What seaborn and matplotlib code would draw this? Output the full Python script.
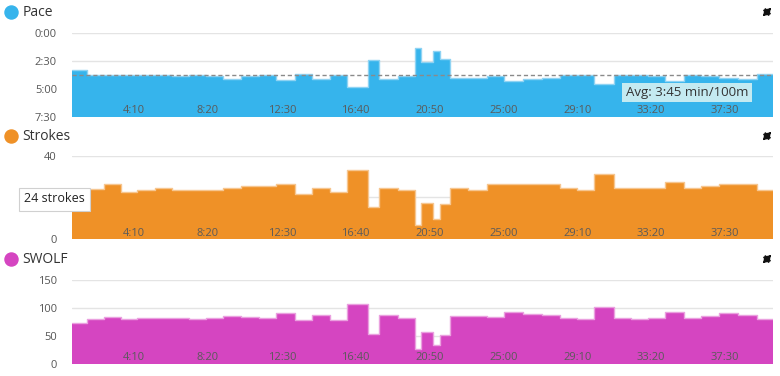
import matplotlib
matplotlib.use('Agg')
import matplotlib.pyplot as plt
from matplotlib.lines import Line2D
from matplotlib.patches import FancyArrowPatch
import pandas as pd
import seaborn as sns

# lap start times (s), plus end of last lap
lap_start = [40, 91, 148, 205, 261, 320, 379, 436, 494, 552, 613, 673, 731, 794,
             851, 912, 970, 1042, 1079, 1144, 1200, 1220, 1260, 1285, 1320, 1381,
             1445, 1501, 1567, 1629, 1692, 1749, 1807, 1875, 1933, 1989, 2046,
             2112, 2170, 2231, 2294, 2357]
end_time = 2412

# pace in seconds per 100m
pace = [196, 223, 227, 227, 227, 227, 232, 227, 232, 245, 232, 223, 250, 220,
        245, 223, 292, 146, 247, 232, 77, 157, 94, 139, 243, 243, 229, 259,
        248, 241, 227, 223, 274, 223, 223, 230, 257, 227, 230, 241, 247, 220]
strokes = [24, 24, 26.5, 22.5, 23.6, 24.5, 23.6, 23.6, 23.6, 24.5, 25.6, 25.6,
           26.5, 21.7, 24.5, 22.5, 33.3, 15.6, 24.5, 23.6, 6.8, 17.5, 9.7, 16.7,
           24.4, 23.6, 26.5, 26.5, 26.5, 26.5, 24.4, 23.6, 31.4, 24.4, 24.4,
           24.4, 27.4, 24.4, 25.6, 26.5, 26.5, 23.6]
swolf = [74, 80, 84, 80, 81.5, 83, 81.5, 80, 83, 86, 84.5, 83, 90.5, 78, 87, 79,
         107, 53, 88, 82, 26, 58, 34, 52, 86, 86, 84, 93, 90, 87, 82, 80, 101,
         82, 80, 81.5, 93.5, 83, 86, 90.5, 88, 80]

avg_pace = 225
x_ticks = [250, 500, 750, 1000, 1250, 1500, 1750, 2000, 2250]
x_labels = ['4:10', '8:20', '12:30', '16:40', '20:50', '25:00', '29:10', '33:20', '37:30']

sns.set_theme(style='white')
plt.rcParams['font.family'] = ['Open Sans', 'DejaVu Sans']

fig = plt.figure(figsize=(7.8, 3.76), dpi=100)

# the "20" label of strokes sits under the tooltip in the original
panels = [
    ('Pace', pace, '#36b4ec', '#8fd3f3', [0.6896, 0.2218], (450, 0),
     [0, 150, 300, 450], ['0:00', '2:30', '5:00', '7:30'], 0.968),
    ('Strokes', strokes, '#ef9127', '#f6c690', [0.3636, 0.2223], (0, 40),
     [0, 20, 40], ['0', '', '40'], 0.638),
    ('SWOLF', swolf, '#d545c1', '#eaa0df', [0.0319, 0.2234], (0, 150),
     [0, 50, 100, 150], ['0', '50', '100', '150'], 0.311),
]


def expand_icon(xc, yc):
    # NE / SW arrows of the "expand" button
    for sx in (1, -1):
        start = (xc + sx * 1.0 / 780, yc + sx * 1.0 / 376)
        end = (xc + sx * 6.0 / 780, yc + sx * 6.0 / 376)
        fig.add_artist(FancyArrowPatch(
            start, end, transform=fig.transFigure,
            arrowstyle='-|>,head_length=0.55,head_width=0.35',
            mutation_scale=7, color='#111111', lw=1.1))


for name, vals, col, edge, (bottom, height), ylim, yt, ytl, ty in panels:
    ax = fig.add_axes([0.0923, bottom, 0.8987, height])
    ax.set_axisbelow(True)
    ax.xaxis.set_zorder(3)  # time labels sit on top of the fill
    df = pd.DataFrame({'time': lap_start + [end_time], 'value': vals + [vals[-1]]})
    base = 450 if name == 'Pace' else 0
    ax.fill_between(df['time'], df['value'], base, step='post', color=col, lw=0, zorder=1)
    sns.lineplot(data=df, x='time', y='value', drawstyle='steps-post',
                 estimator=None, color=edge, lw=1, ax=ax, zorder=2)
    ax.set_xlim(lap_start[0], end_time)
    ax.set_ylim(*ylim)
    ax.set_yticks(yt)
    ax.set_yticklabels(ytl)
    ax.set_xticks(x_ticks)
    ax.set_xticklabels(x_labels)
    ax.set_xlabel('')
    ax.set_ylabel('')
    ax.yaxis.grid(True, color='#e4e4e4', lw=1)
    ax.xaxis.grid(False)
    for s in ax.spines.values():
        s.set_visible(False)
    ax.tick_params(axis='y', length=0, pad=10.8, labelsize=8, labelcolor='#555555')
    ax.tick_params(axis='x', length=0, pad=-8.3, labelsize=8, labelcolor='#5a5a5a')
    fig.add_artist(Line2D([10.5 / 780], [ty], marker='o', markersize=9.4, color=col,
                          transform=fig.transFigure))
    fig.text(22.5 / 780, ty, name, fontsize=10, color='#333333', va='center', ha='left')
    expand_icon(767 / 780, ty)
    if name == 'Pace':
        ax.axhline(avg_pace, color='#8a8a8a', lw=1, ls=(0, (3, 2)), zorder=3)

fig.text(687 / 780, 1 - 92.5 / 376, 'Avg: 3:45 min/100m', fontsize=9.5, color='#333333',
         ha='center', va='center',
         bbox=dict(boxstyle='square,pad=0.25', fc='#c4eaf1', ec='none'))
fig.text(54.5 / 780, 1 - 199 / 376, '24 strokes', fontsize=9, color='#222222',
         ha='center', va='center',
         bbox=dict(boxstyle='square,pad=0.4', fc='white', ec='#d0d0d0', lw=0.8))

fig.savefig('out.png', dpi=100)
